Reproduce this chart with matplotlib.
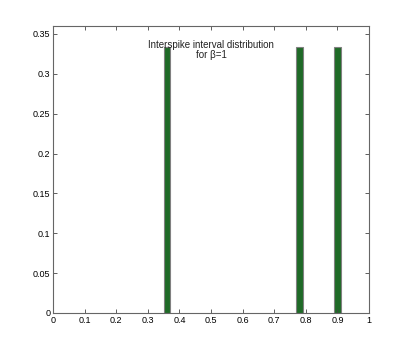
import matplotlib
matplotlib.use("Agg")
import matplotlib.pyplot as plt

# histogram bins (centres) and normalised counts
bin_centres = [0.36, 0.78, 0.90]
bin_heights = [0.3333, 0.3333, 0.3333]
bin_width = 0.02

x_ticks = [0, 0.1, 0.2, 0.3, 0.4, 0.5, 0.6, 0.7, 0.8, 0.9, 1]
x_labels = ["0", "0.1", "0.2", "0.3", "0.4", "0.5", "0.6", "0.7", "0.8", "0.9", "1"]
y_ticks = [0, 0.05, 0.1, 0.15, 0.2, 0.25, 0.3, 0.35]
y_labels = ["0", "0.05", "0.1", "0.15", "0.2", "0.25", "0.3", "0.35"]

plt.rcParams['font.family'] = ['Liberation Sans', 'DejaVu Sans']

fig = plt.figure(figsize=(4.07, 3.53), dpi=100)
ax = fig.add_axes([53 / 407, 1 - 313 / 353, 316 / 407, 287 / 353])

ax.bar(bin_centres, bin_heights, width=bin_width, color='#1f6a27',
       edgecolor='#808080', linewidth=0.8)

ax.set_xlim(0, 1)
ax.set_ylim(0, 0.36)
ax.set_xticks(x_ticks)
ax.set_xticklabels(x_labels)
ax.set_yticks(y_ticks)
ax.set_yticklabels(y_labels)
ax.tick_params(direction='in', top=True, right=True, labelsize=6.5,
               length=3, width=0.6, color='#444444', pad=2)
for s in ax.spines.values():
    s.set_color('#666666')
    s.set_linewidth(0.8)

ax.text(0.5, 0.343, "Interspike interval distribution\nfor \u03b2=1",
        ha='center', va='top', fontsize=7, linespacing=1.1,
        color='#222222', transform=ax.transData)

fig.savefig("out.png", dpi=100)
